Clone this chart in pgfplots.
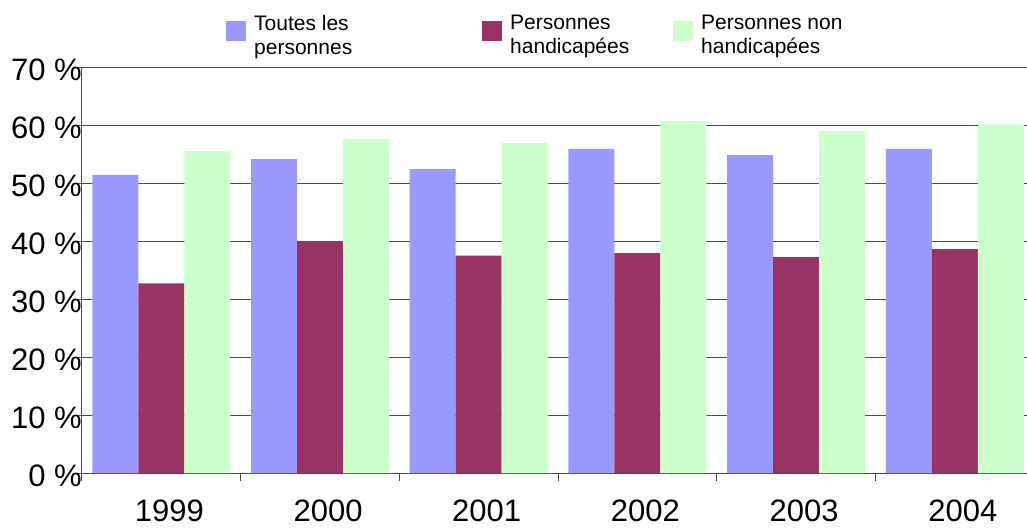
\documentclass[border=0pt]{standalone}
\usepackage{pgfplots}
\pgfplotsset{compat=1.18}
\usepackage{fontspec}
\setmainfont{Liberation Sans}
\definecolor{cblue}{HTML}{9999FF}
\definecolor{cred}{HTML}{993366}
\definecolor{cgreen}{HTML}{CCFFCC}
\definecolor{cgrid}{HTML}{4D4D4D}
\begin{document}
\begin{tikzpicture}
\useasboundingbox (-82bp,-56bp) rectangle (945bp,473bp);
\begin{axis}[
  scale only axis,
  width=945bp, height=406bp,
  xmin=-0.5, xmax=5.455,
  ymin=0, ymax=70,
  axis x line=bottom, axis y line=left,
  axis line style={-, color=cgrid, line width=1bp},
  ybar, bar width=0.29,
  xtick={0,1,2,3,4,5},
  xticklabels={1999,2000,2001,2002,2003,2004},
  minor xtick={-0.5,0.5,1.5,2.5,3.5,4.5},
  major x tick style={draw=none},
  minor tick length=8bp,
  ytick={0,10,20,30,40,50,60,70},
  yticklabels={0 \%,10 \%,20 \%,30 \%,40 \%,50 \%,60 \%,70 \%},
  major tick length=8bp,
  tick align=outside,
  tick style={color=cgrid, line width=1bp},
  ymajorgrids,
  major grid style={color=cgrid, line width=1bp},
  tick label style={font=\fontsize{31bp}{36bp}\selectfont, text=black},
  xticklabel style={yshift=-19bp, xshift=8bp, inner sep=0pt, text depth=0pt},
  yticklabel style={anchor=east, inner sep=0pt, xshift=8bp, yshift=-3bp},
  legend style={
    at={(axis description cs:0.1524,1.128)}, anchor=north west,
    draw=none, fill=none, inner sep=0pt,
    font=\fontsize{21bp}{24bp}\selectfont,
    column sep=0pt,
    nodes={inner sep=0pt},
    cells={anchor=west},
  },
  legend columns=3,
  legend image code/.code={\fill[#1] (0bp,-12bp) rectangle (20bp,8bp); \path (28bp,0bp);},
]
\addplot[fill=cblue, draw=none, bar shift=-0.29] coordinates {(0,51.4) (1,54.1) (2,52.4) (3,55.9) (4,54.8) (5,55.9)};
\addplot[fill=cred, draw=none, bar shift=0] coordinates {(0,32.7) (1,40.0) (2,37.5) (3,37.9) (4,37.2) (5,38.6)};
\addplot[fill=cgreen, draw=none, bar shift=0.29] coordinates {(0,55.5) (1,57.6) (2,56.9) (3,60.7) (4,59.0) (5,60.1)};
\legend{\parbox{228bp}{Toutes les\\personnes},\parbox{163bp}{Personnes\\handicapées},\parbox{150bp}{Personnes non\\handicapées}}
\end{axis}
\end{tikzpicture}
\end{document}
